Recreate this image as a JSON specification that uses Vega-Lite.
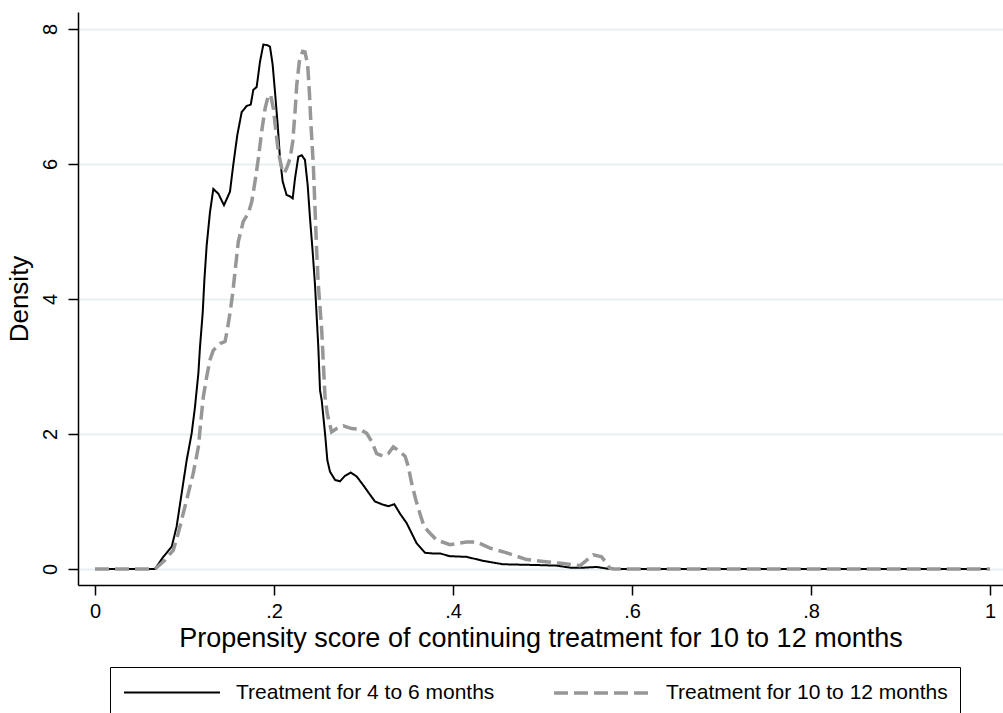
{
  "$schema": "https://vega.github.io/schema/vega-lite/v6.json",
  "width": 925,
  "height": 573,
  "autosize": {"type": "none"},
  "padding": {"left": 78, "top": 12, "right": 0, "bottom": 128},
  "background": "white",
  "config": {
    "view": {"stroke": null},
    "font": "Liberation Sans",
    "axis": {
      "domainColor": "black", "domainWidth": 1.5,
      "tickColor": "black", "tickWidth": 1.5, "tickSize": 10,
      "labelFont": "Liberation Sans", "labelFontSize": 20, "labelColor": "black",
      "titleFont": "Liberation Sans", "titleFontSize": 26, "titleColor": "black", "titleFontWeight": "normal"
    },
    "legend": {
      "orient": "none", "legendX": 32, "legendY": 655,
      "direction": "horizontal", "columns": 2,
      "strokeColor": "black", "padding": 12, "fillColor": "white",
      "symbolType": "M-1,0H7", "symbolSize": 576,
      "labelFont": "Liberation Sans", "labelFontSize": 21, "labelColor": "black",
      "labelOffset": 86, "columnPadding": 52, "labelLimit": 500
    }
  },
  "data": {"values": [
    {"s": "Treatment for 4 to 6 months", "x": 0, "y": 0},
    {"s": "Treatment for 4 to 6 months", "x": 0.067, "y": 0},
    {"s": "Treatment for 4 to 6 months", "x": 0.0763, "y": 0.18},
    {"s": "Treatment for 4 to 6 months", "x": 0.0857, "y": 0.33},
    {"s": "Treatment for 4 to 6 months", "x": 0.0912, "y": 0.63},
    {"s": "Treatment for 4 to 6 months", "x": 0.0968, "y": 1.12},
    {"s": "Treatment for 4 to 6 months", "x": 0.1024, "y": 1.61},
    {"s": "Treatment for 4 to 6 months", "x": 0.108, "y": 2.01},
    {"s": "Treatment for 4 to 6 months", "x": 0.1117, "y": 2.4},
    {"s": "Treatment for 4 to 6 months", "x": 0.1155, "y": 2.9},
    {"s": "Treatment for 4 to 6 months", "x": 0.1173, "y": 3.29},
    {"s": "Treatment for 4 to 6 months", "x": 0.1203, "y": 3.79},
    {"s": "Treatment for 4 to 6 months", "x": 0.1222, "y": 4.28},
    {"s": "Treatment for 4 to 6 months", "x": 0.1248, "y": 4.8},
    {"s": "Treatment for 4 to 6 months", "x": 0.1285, "y": 5.29},
    {"s": "Treatment for 4 to 6 months", "x": 0.1322, "y": 5.63},
    {"s": "Treatment for 4 to 6 months", "x": 0.1378, "y": 5.56},
    {"s": "Treatment for 4 to 6 months", "x": 0.1441, "y": 5.39},
    {"s": "Treatment for 4 to 6 months", "x": 0.1508, "y": 5.59},
    {"s": "Treatment for 4 to 6 months", "x": 0.1545, "y": 5.99},
    {"s": "Treatment for 4 to 6 months", "x": 0.159, "y": 6.43},
    {"s": "Treatment for 4 to 6 months", "x": 0.1639, "y": 6.77},
    {"s": "Treatment for 4 to 6 months", "x": 0.1695, "y": 6.86},
    {"s": "Treatment for 4 to 6 months", "x": 0.174, "y": 6.88},
    {"s": "Treatment for 4 to 6 months", "x": 0.1769, "y": 7.1},
    {"s": "Treatment for 4 to 6 months", "x": 0.1806, "y": 7.14},
    {"s": "Treatment for 4 to 6 months", "x": 0.1844, "y": 7.52},
    {"s": "Treatment for 4 to 6 months", "x": 0.1881, "y": 7.77},
    {"s": "Treatment for 4 to 6 months", "x": 0.1925, "y": 7.76},
    {"s": "Treatment for 4 to 6 months", "x": 0.1955, "y": 7.74},
    {"s": "Treatment for 4 to 6 months", "x": 0.1985, "y": 7.47},
    {"s": "Treatment for 4 to 6 months", "x": 0.2011, "y": 7.07},
    {"s": "Treatment for 4 to 6 months", "x": 0.2041, "y": 6.58},
    {"s": "Treatment for 4 to 6 months", "x": 0.2067, "y": 6.08},
    {"s": "Treatment for 4 to 6 months", "x": 0.2097, "y": 5.74},
    {"s": "Treatment for 4 to 6 months", "x": 0.2141, "y": 5.54},
    {"s": "Treatment for 4 to 6 months", "x": 0.2179, "y": 5.52},
    {"s": "Treatment for 4 to 6 months", "x": 0.2209, "y": 5.49},
    {"s": "Treatment for 4 to 6 months", "x": 0.2235, "y": 5.79},
    {"s": "Treatment for 4 to 6 months", "x": 0.2272, "y": 6.11},
    {"s": "Treatment for 4 to 6 months", "x": 0.231, "y": 6.13},
    {"s": "Treatment for 4 to 6 months", "x": 0.2346, "y": 6.06},
    {"s": "Treatment for 4 to 6 months", "x": 0.2376, "y": 5.69},
    {"s": "Treatment for 4 to 6 months", "x": 0.2402, "y": 5.2},
    {"s": "Treatment for 4 to 6 months", "x": 0.2432, "y": 4.7},
    {"s": "Treatment for 4 to 6 months", "x": 0.2458, "y": 4.21},
    {"s": "Treatment for 4 to 6 months", "x": 0.2495, "y": 3.29},
    {"s": "Treatment for 4 to 6 months", "x": 0.2514, "y": 2.65},
    {"s": "Treatment for 4 to 6 months", "x": 0.2533, "y": 2.5},
    {"s": "Treatment for 4 to 6 months", "x": 0.257, "y": 2.01},
    {"s": "Treatment for 4 to 6 months", "x": 0.2596, "y": 1.61},
    {"s": "Treatment for 4 to 6 months", "x": 0.2626, "y": 1.44},
    {"s": "Treatment for 4 to 6 months", "x": 0.2682, "y": 1.32},
    {"s": "Treatment for 4 to 6 months", "x": 0.2737, "y": 1.3},
    {"s": "Treatment for 4 to 6 months", "x": 0.2793, "y": 1.38},
    {"s": "Treatment for 4 to 6 months", "x": 0.2857, "y": 1.43},
    {"s": "Treatment for 4 to 6 months", "x": 0.2924, "y": 1.37},
    {"s": "Treatment for 4 to 6 months", "x": 0.2998, "y": 1.24},
    {"s": "Treatment for 4 to 6 months", "x": 0.3073, "y": 1.1},
    {"s": "Treatment for 4 to 6 months", "x": 0.3128, "y": 1.0},
    {"s": "Treatment for 4 to 6 months", "x": 0.3203, "y": 0.96},
    {"s": "Treatment for 4 to 6 months", "x": 0.3277, "y": 0.93},
    {"s": "Treatment for 4 to 6 months", "x": 0.3344, "y": 0.96},
    {"s": "Treatment for 4 to 6 months", "x": 0.3408, "y": 0.82},
    {"s": "Treatment for 4 to 6 months", "x": 0.3482, "y": 0.68},
    {"s": "Treatment for 4 to 6 months", "x": 0.3538, "y": 0.53},
    {"s": "Treatment for 4 to 6 months", "x": 0.3594, "y": 0.38},
    {"s": "Treatment for 4 to 6 months", "x": 0.3687, "y": 0.24},
    {"s": "Treatment for 4 to 6 months", "x": 0.378, "y": 0.23},
    {"s": "Treatment for 4 to 6 months", "x": 0.3855, "y": 0.23},
    {"s": "Treatment for 4 to 6 months", "x": 0.3966, "y": 0.19},
    {"s": "Treatment for 4 to 6 months", "x": 0.415, "y": 0.18},
    {"s": "Treatment for 4 to 6 months", "x": 0.434, "y": 0.12},
    {"s": "Treatment for 4 to 6 months", "x": 0.456, "y": 0.07},
    {"s": "Treatment for 4 to 6 months", "x": 0.49, "y": 0.06},
    {"s": "Treatment for 4 to 6 months", "x": 0.516, "y": 0.05},
    {"s": "Treatment for 4 to 6 months", "x": 0.531, "y": 0.02},
    {"s": "Treatment for 4 to 6 months", "x": 0.546, "y": 0.02},
    {"s": "Treatment for 4 to 6 months", "x": 0.5605, "y": 0.03},
    {"s": "Treatment for 4 to 6 months", "x": 0.575, "y": 0},
    {"s": "Treatment for 4 to 6 months", "x": 1, "y": 0},
    {"s": "Treatment for 10 to 12 months", "x": 0, "y": 0},
    {"s": "Treatment for 10 to 12 months", "x": 0.067, "y": 0},
    {"s": "Treatment for 10 to 12 months", "x": 0.078, "y": 0.13},
    {"s": "Treatment for 10 to 12 months", "x": 0.0875, "y": 0.28},
    {"s": "Treatment for 10 to 12 months", "x": 0.093, "y": 0.53},
    {"s": "Treatment for 10 to 12 months", "x": 0.0987, "y": 0.83},
    {"s": "Treatment for 10 to 12 months", "x": 0.1042, "y": 1.12},
    {"s": "Treatment for 10 to 12 months", "x": 0.1098, "y": 1.42},
    {"s": "Treatment for 10 to 12 months", "x": 0.1155, "y": 1.81},
    {"s": "Treatment for 10 to 12 months", "x": 0.1184, "y": 2.21},
    {"s": "Treatment for 10 to 12 months", "x": 0.121, "y": 2.55},
    {"s": "Treatment for 10 to 12 months", "x": 0.1248, "y": 2.85},
    {"s": "Treatment for 10 to 12 months", "x": 0.1285, "y": 3.1},
    {"s": "Treatment for 10 to 12 months", "x": 0.1322, "y": 3.24},
    {"s": "Treatment for 10 to 12 months", "x": 0.1397, "y": 3.34},
    {"s": "Treatment for 10 to 12 months", "x": 0.1453, "y": 3.37},
    {"s": "Treatment for 10 to 12 months", "x": 0.1478, "y": 3.54},
    {"s": "Treatment for 10 to 12 months", "x": 0.1508, "y": 3.79},
    {"s": "Treatment for 10 to 12 months", "x": 0.1538, "y": 4.08},
    {"s": "Treatment for 10 to 12 months", "x": 0.1564, "y": 4.4},
    {"s": "Treatment for 10 to 12 months", "x": 0.1601, "y": 4.85},
    {"s": "Treatment for 10 to 12 months", "x": 0.1657, "y": 5.15},
    {"s": "Treatment for 10 to 12 months", "x": 0.1713, "y": 5.27},
    {"s": "Treatment for 10 to 12 months", "x": 0.1751, "y": 5.44},
    {"s": "Treatment for 10 to 12 months", "x": 0.1788, "y": 5.74},
    {"s": "Treatment for 10 to 12 months", "x": 0.1825, "y": 6.08},
    {"s": "Treatment for 10 to 12 months", "x": 0.1862, "y": 6.48},
    {"s": "Treatment for 10 to 12 months", "x": 0.19, "y": 6.82},
    {"s": "Treatment for 10 to 12 months", "x": 0.1937, "y": 7.02},
    {"s": "Treatment for 10 to 12 months", "x": 0.1963, "y": 7.02},
    {"s": "Treatment for 10 to 12 months", "x": 0.1993, "y": 6.82},
    {"s": "Treatment for 10 to 12 months", "x": 0.2022, "y": 6.48},
    {"s": "Treatment for 10 to 12 months", "x": 0.2048, "y": 6.18},
    {"s": "Treatment for 10 to 12 months", "x": 0.2086, "y": 5.94},
    {"s": "Treatment for 10 to 12 months", "x": 0.2112, "y": 5.86},
    {"s": "Treatment for 10 to 12 months", "x": 0.2142, "y": 5.94},
    {"s": "Treatment for 10 to 12 months", "x": 0.2179, "y": 6.08},
    {"s": "Treatment for 10 to 12 months", "x": 0.2209, "y": 6.33},
    {"s": "Treatment for 10 to 12 months", "x": 0.2235, "y": 6.77},
    {"s": "Treatment for 10 to 12 months", "x": 0.2254, "y": 7.17},
    {"s": "Treatment for 10 to 12 months", "x": 0.2283, "y": 7.52},
    {"s": "Treatment for 10 to 12 months", "x": 0.232, "y": 7.67},
    {"s": "Treatment for 10 to 12 months", "x": 0.2346, "y": 7.66},
    {"s": "Treatment for 10 to 12 months", "x": 0.2376, "y": 7.47},
    {"s": "Treatment for 10 to 12 months", "x": 0.2395, "y": 7.07},
    {"s": "Treatment for 10 to 12 months", "x": 0.2413, "y": 6.58},
    {"s": "Treatment for 10 to 12 months", "x": 0.2439, "y": 5.99},
    {"s": "Treatment for 10 to 12 months", "x": 0.2458, "y": 5.34},
    {"s": "Treatment for 10 to 12 months", "x": 0.2477, "y": 4.7},
    {"s": "Treatment for 10 to 12 months", "x": 0.2495, "y": 4.21},
    {"s": "Treatment for 10 to 12 months", "x": 0.2533, "y": 3.54},
    {"s": "Treatment for 10 to 12 months", "x": 0.2551, "y": 3.05},
    {"s": "Treatment for 10 to 12 months", "x": 0.257, "y": 2.55},
    {"s": "Treatment for 10 to 12 months", "x": 0.2595, "y": 2.3},
    {"s": "Treatment for 10 to 12 months", "x": 0.2644, "y": 2.03},
    {"s": "Treatment for 10 to 12 months", "x": 0.27, "y": 2.08},
    {"s": "Treatment for 10 to 12 months", "x": 0.2775, "y": 2.12},
    {"s": "Treatment for 10 to 12 months", "x": 0.2868, "y": 2.08},
    {"s": "Treatment for 10 to 12 months", "x": 0.2961, "y": 2.07},
    {"s": "Treatment for 10 to 12 months", "x": 0.3036, "y": 2.01},
    {"s": "Treatment for 10 to 12 months", "x": 0.3091, "y": 1.89},
    {"s": "Treatment for 10 to 12 months", "x": 0.3147, "y": 1.71},
    {"s": "Treatment for 10 to 12 months", "x": 0.3221, "y": 1.67},
    {"s": "Treatment for 10 to 12 months", "x": 0.3277, "y": 1.71},
    {"s": "Treatment for 10 to 12 months", "x": 0.3333, "y": 1.81},
    {"s": "Treatment for 10 to 12 months", "x": 0.3408, "y": 1.74},
    {"s": "Treatment for 10 to 12 months", "x": 0.3464, "y": 1.67},
    {"s": "Treatment for 10 to 12 months", "x": 0.35, "y": 1.52},
    {"s": "Treatment for 10 to 12 months", "x": 0.3538, "y": 1.27},
    {"s": "Treatment for 10 to 12 months", "x": 0.3585, "y": 1.02},
    {"s": "Treatment for 10 to 12 months", "x": 0.3631, "y": 0.82},
    {"s": "Treatment for 10 to 12 months", "x": 0.3676, "y": 0.63},
    {"s": "Treatment for 10 to 12 months", "x": 0.3743, "y": 0.53},
    {"s": "Treatment for 10 to 12 months", "x": 0.3818, "y": 0.43},
    {"s": "Treatment for 10 to 12 months", "x": 0.3966, "y": 0.36},
    {"s": "Treatment for 10 to 12 months", "x": 0.415, "y": 0.4},
    {"s": "Treatment for 10 to 12 months", "x": 0.4264, "y": 0.4},
    {"s": "Treatment for 10 to 12 months", "x": 0.4413, "y": 0.31},
    {"s": "Treatment for 10 to 12 months", "x": 0.46, "y": 0.24},
    {"s": "Treatment for 10 to 12 months", "x": 0.4823, "y": 0.14},
    {"s": "Treatment for 10 to 12 months", "x": 0.5009, "y": 0.11},
    {"s": "Treatment for 10 to 12 months", "x": 0.5233, "y": 0.08},
    {"s": "Treatment for 10 to 12 months", "x": 0.5419, "y": 0.05},
    {"s": "Treatment for 10 to 12 months", "x": 0.5568, "y": 0.21},
    {"s": "Treatment for 10 to 12 months", "x": 0.5661, "y": 0.18},
    {"s": "Treatment for 10 to 12 months", "x": 0.5754, "y": 0.01},
    {"s": "Treatment for 10 to 12 months", "x": 0.58, "y": 0},
    {"s": "Treatment for 10 to 12 months", "x": 1, "y": 0}
  ]},
  "encoding": {
    "x": {
      "field": "x", "type": "quantitative",
      "scale": {"domain": [-0.019, 1.0145], "nice": false, "zero": false},
      "axis": {
        "values": [0, 0.2, 0.4, 0.6, 0.8, 1],
        "labelExpr": "datum.value == 0 ? '0' : datum.value == 1 ? '1' : replace(format(datum.value, '.1f'), '0.', '.')",
        "grid": false, "labelPadding": 6, "titlePadding": 4, "titleFontSize": 27,
        "title": "Propensity score of continuing treatment for 10 to 12 months"
      }
    },
    "y": {
      "field": "y", "type": "quantitative",
      "scale": {"domain": [-0.237, 8.252], "nice": false, "zero": false},
      "axis": {
        "values": [0, 2, 4, 6, 8], "grid": true, "gridColor": "#e8eff2", "gridWidth": 2,
        "labelAngle": -90, "labelAlign": "center", "labelBaseline": "bottom", "labelPadding": 8,
        "titlePadding": 8, "title": "Density"
      }
    },
    "color": {
      "field": "s", "type": "nominal",
      "scale": {"domain": ["Treatment for 4 to 6 months", "Treatment for 10 to 12 months"], "range": ["black", "#979797"]},
      "legend": {"title": null}
    },
    "strokeDash": {
      "field": "s", "type": "nominal",
      "scale": {"domain": ["Treatment for 4 to 6 months", "Treatment for 10 to 12 months"], "range": [[1, 0], [14, 6]]},
      "legend": {"title": null}
    },
    "strokeWidth": {
      "field": "s", "type": "nominal",
      "scale": {"domain": ["Treatment for 4 to 6 months", "Treatment for 10 to 12 months"], "range": [2, 3.5]},
      "legend": {"title": null}
    }
  },
  "layer": [
    {"transform": [{"filter": "datum.s == 'Treatment for 4 to 6 months'"}], "mark": {"type": "line"}},
    {"transform": [{"filter": "datum.s == 'Treatment for 10 to 12 months'"}], "mark": {"type": "line"}}
  ]
}
